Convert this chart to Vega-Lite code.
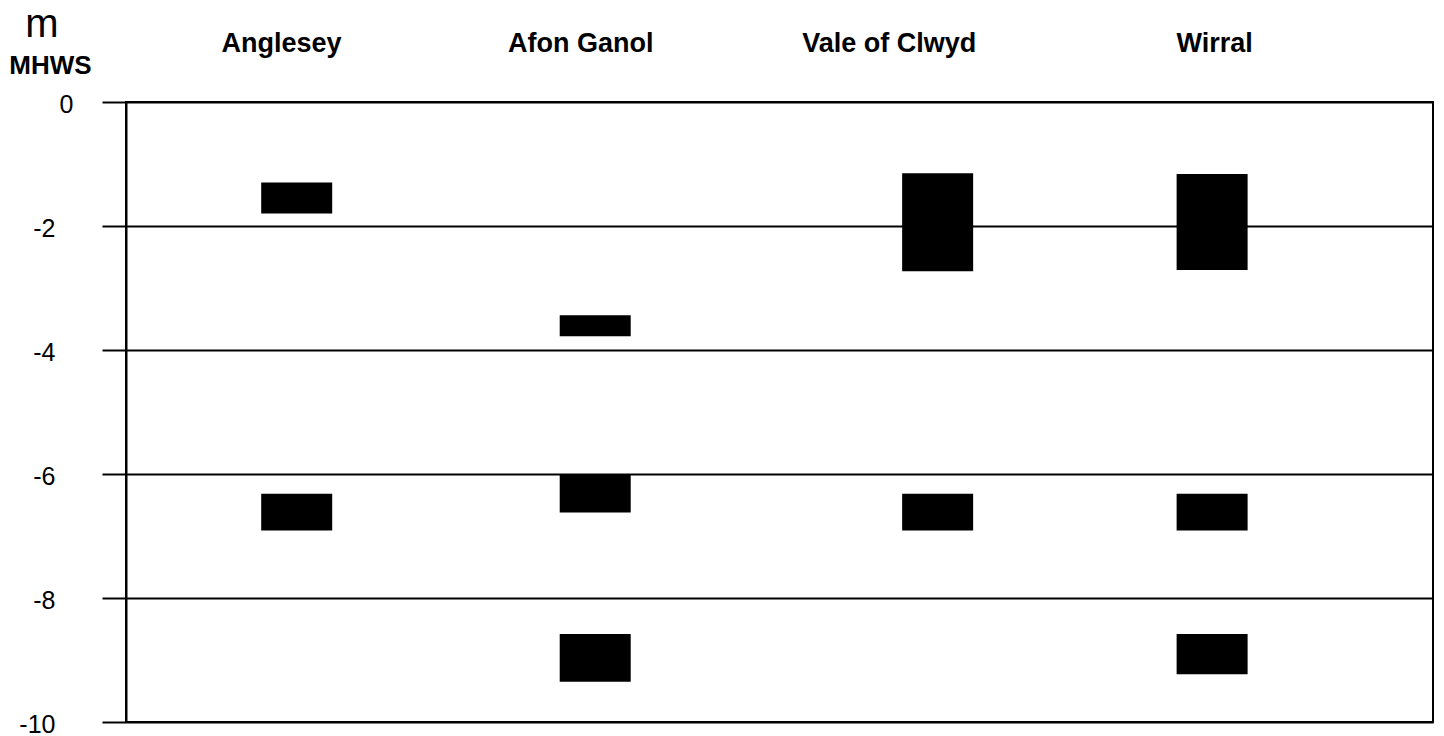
{
  "$schema": "https://vega.github.io/schema/vega-lite/v6.json",
  "width": 1307,
  "height": 620,
  "autosize": {"type": "none"},
  "padding": {"left": 126, "top": 102, "right": 11, "bottom": 14},
  "background": "white",
  "config": {
    "view": {"stroke": "black", "strokeWidth": 2},
    "font": "Liberation Sans"
  },
  "title": {
    "text": "m",
    "anchor": "start",
    "frame": "group",
    "align": "center",
    "dx": -84,
    "dy": 19,
    "fontSize": 40,
    "fontWeight": "normal",
    "color": "black",
    "font": "Liberation Sans"
  },
  "datasets": {
    "bars": [
      {"site": "Anglesey", "x": 13.06, "top": -1.3, "bottom": -1.8},
      {"site": "Anglesey", "x": 13.06, "top": -6.32, "bottom": -6.91},
      {"site": "Afon Ganol", "x": 35.9, "top": -3.44, "bottom": -3.78},
      {"site": "Afon Ganol", "x": 35.9, "top": -6.0, "bottom": -6.62},
      {"site": "Afon Ganol", "x": 35.9, "top": -8.58, "bottom": -9.35},
      {"site": "Vale of Clwyd", "x": 62.1, "top": -1.15, "bottom": -2.73},
      {"site": "Vale of Clwyd", "x": 62.1, "top": -6.32, "bottom": -6.91},
      {"site": "Wirral", "x": 83.1, "top": -1.16, "bottom": -2.71},
      {"site": "Wirral", "x": 83.1, "top": -6.32, "bottom": -6.91},
      {"site": "Wirral", "x": 83.1, "top": -8.58, "bottom": -9.23}
    ],
    "sites": [
      {"site": "Anglesey", "x": 11.9},
      {"site": "Afon Ganol", "x": 34.8},
      {"site": "Vale of Clwyd", "x": 58.4},
      {"site": "Wirral", "x": 83.3}
    ]
  },
  "layer": [
    {
      "data": {"name": "bars"},
      "mark": {"type": "bar", "width": 71, "color": "black"},
      "encoding": {
        "x": {"field": "x", "type": "quantitative", "scale": {"domain": [0, 100], "padding": 0, "nice": false, "zero": false}, "axis": null},
        "y": {
          "field": "top",
          "type": "quantitative",
          "scale": {"domain": [-10, 0], "nice": false},
          "axis": {
            "values": [0, -2, -4, -6, -8, -10],
            "labelExpr": "'' + datum.value",
            "grid": true,
            "gridColor": "black",
            "gridWidth": 2,
            "gridOpacity": 1,
            "domainColor": "black",
            "domainWidth": 2,
            "tickColor": "black",
            "tickWidth": 2,
            "tickSize": 24,
            "labelFont": "Liberation Sans",
            "labelFontSize": 25,
            "labelColor": "black",
            "labelPadding": {"condition": {"test": "datum.value == 0", "value": 29}, "value": 47},
            "labelBaseline": "middle",
            "labelOffset": 2,
            "labelOverlap": false,
            "title": "MHWS",
            "titleAngle": 0,
            "titleX": -76,
            "titleY": -29,
            "titleAlign": "center",
            "titleBaseline": "alphabetic",
            "titleFontSize": 26,
            "titleFontWeight": "bold",
            "titleFont": "Liberation Sans",
            "titleColor": "black"
          }
        },
        "y2": {"field": "bottom"}
      }
    },
    {
      "data": {"name": "sites"},
      "mark": {"type": "text", "fontSize": 27, "fontWeight": "bold", "dy": -50, "baseline": "alphabetic", "color": "black", "font": "Liberation Sans"},
      "encoding": {
        "x": {"field": "x", "type": "quantitative"},
        "y": {"datum": 0},
        "text": {"field": "site"}
      }
    }
  ]
}
